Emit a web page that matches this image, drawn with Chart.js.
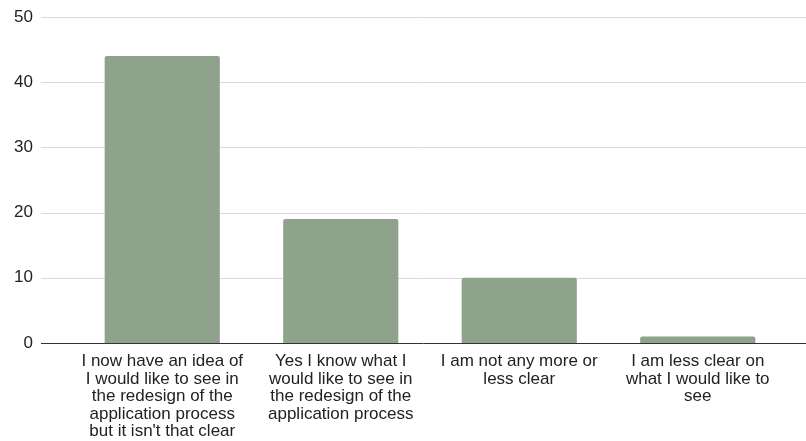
<!DOCTYPE html>
<html>
<head>
<meta charset="utf-8">
<script src="https://cdn.jsdelivr.net/npm/chart.js@4"></script>
<style>
  html, body { margin: 0; padding: 0; background: #fff; }
  #chart { display: block; }
</style>
</head>
<body>
<canvas id="chart" width="806" height="441"></canvas>
<script>
// ---- data ----
const categories = [
    ['I now have an idea of', 'I would like to see in', 'the redesign of the', 'application process', "but it isn't that clear"],
    ['Yes I know what I', 'would like to see in', 'the redesign of the', 'application process'],
    ['I am not any more or', 'less clear'],
    ['I am less clear on', 'what I would like to', 'see']
];
const responses = [44, 19, 10, 1];
const yTicks = [0, 10, 20, 30, 40, 50];

// gridlines run wider than the plot area, like the original sheet chart
const wideGrid = {
    id: 'wideGrid',
    beforeDatasetsDraw(chart) {
        const ctx = chart.ctx;
        const y = chart.scales.y;
        ctx.save();
        yTicks.forEach(t => {
            const py = Math.round(y.getPixelForValue(t)) + 0.5;
            ctx.beginPath();
            ctx.moveTo(41, py);
            ctx.lineTo(chart.width, py);
            ctx.strokeStyle = t === 0 ? '#333333' : '#d9d9d9';
            ctx.lineWidth = 1;
            ctx.stroke();
        });
        ctx.restore();
    }
};

new Chart(document.getElementById('chart'), {
    type: 'bar',
    data: {
        labels: categories,
        datasets: [{
            data: responses,
            backgroundColor: '#8ea28c',
            borderRadius: { topLeft: 2, topRight: 2 },
            borderSkipped: 'bottom',
            barPercentage: 0.645,
            categoryPercentage: 1
        }]
    },
    options: {
        responsive: false,
        animation: false,
        layout: { padding: { top: 17, right: 19, left: 0, bottom: 0 } },
        plugins: {
            legend: { display: false },
            tooltip: { enabled: false }
        },
        scales: {
            y: {
                min: 0,
                max: 50,
                afterFit(scale) {
                    scale.width = 73;
                    scale.paddingTop = 0;
                    scale.paddingBottom = 0;
                },
                afterBuildTicks(scale) { scale.ticks = yTicks.map(v => ({ value: v })); },
                grid: { display: false, drawTicks: false },
                border: { display: false },
                ticks: {
                    padding: 40,
                    color: '#222',
                    font: { family: 'Liberation Sans, Arial, sans-serif', size: 17 }
                }
            },
            x: {
                afterFit(scale) {
                    scale.height = 98;
                    scale.paddingLeft = 0;
                    scale.paddingRight = 0;
                },
                grid: { display: false, drawTicks: false },
                border: { display: false },
                ticks: {
                    padding: 10,
                    maxRotation: 0,
                    autoSkip: false,
                    color: '#222',
                    font: { family: 'Liberation Sans, Arial, sans-serif', size: 17, lineHeight: 1.03 }
                }
            }
        }
    },
    plugins: [wideGrid]
});
</script>
</body>
</html>
